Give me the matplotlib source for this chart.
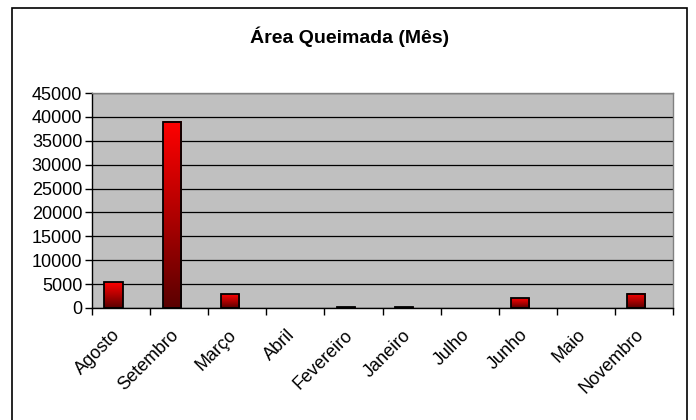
import numpy as np
import matplotlib
matplotlib.use("Agg")
from matplotlib import pyplot as plt
from matplotlib.colors import LinearSegmentedColormap
from matplotlib.patches import Rectangle
from matplotlib.transforms import ScaledTranslation

meses = ["Agosto", "Setembro", "Março", "Abril", "Fevereiro",
         "Janeiro", "Julho", "Junho", "Maio", "Novembro"]
area = [5400, 39000, 2900, 0, 150, 120, 0, 2000, 0, 3000]
y_ticks = [0, 5000, 10000, 15000, 20000, 25000, 30000, 35000, 40000, 45000]

plt.rcParams["font.family"] = ["Liberation Sans", "DejaVu Sans"]

fig = plt.figure(figsize=(6.96, 4.20), dpi=100)
ax = fig.add_axes([92 / 696, (420 - 308) / 420, 581 / 696, 215 / 420])

# outer chart frame
fig.patches.append(Rectangle((12 / 696, -0.01), 675 / 696, (420 - 8) / 420 + 0.01,
                             transform=fig.transFigure, fill=False,
                             edgecolor="black", linewidth=1.2))

ax.set_facecolor("#c0c0c0")
for s in ax.spines.values():
    s.set_color("#808080")
    s.set_linewidth(1.0)
ax.spines["left"].set_color("black")
ax.spines["bottom"].set_color("black")

ax.set_axisbelow(True)
ax.yaxis.grid(True, color="black", linewidth=0.9)

# red gradient, bright at the top and dark at the bottom of each bar
cmap = LinearSegmentedColormap.from_list("verm", ["#5a0000", "#b00000", "#ff0000"])
grad = np.linspace(0, 1, 256).reshape(-1, 1)
largura = 0.31
desvio = -0.13  # bars sit a little left of the category centre
x = np.arange(len(meses))
for xi, v in zip(x, area):
    if v <= 0:
        continue
    xc = xi + desvio
    ax.imshow(grad, extent=[xc - largura / 2, xc + largura / 2, 0, v],
              origin="lower", aspect="auto", cmap=cmap, zorder=2)
    ax.bar(xc, v, width=largura, facecolor="none", edgecolor="black",
           linewidth=1.3, zorder=3)

ax.set_xlim(-0.5, len(meses) - 0.5)
ax.set_ylim(0, 45000)
ax.set_yticks(y_ticks)
ax.set_yticklabels([str(t) for t in y_ticks], fontsize=13)

ax.set_xticks(x)
ax.set_xticklabels(meses, fontsize=13, rotation=45, ha="right", va="top",
                   rotation_mode="anchor")
ax.tick_params(axis="x", length=0, pad=9)
desloc = ScaledTranslation(-0.09, -0.06, fig.dpi_scale_trans)
for lbl in ax.get_xticklabels():
    lbl.set_transform(lbl.get_transform() + desloc)
ax.set_xticks(np.arange(len(meses) + 1) - 0.5, minor=True)
ax.tick_params(axis="x", which="minor", length=5, width=1, color="black")
ax.tick_params(axis="y", length=5, width=1, color="black", pad=2)

fig.text(350 / 696, 1 - 37 / 420, "Área Queimada (Mês)", ha="center", va="center",
         fontsize=14, fontweight="bold")

fig.savefig("out.png", dpi=100)
